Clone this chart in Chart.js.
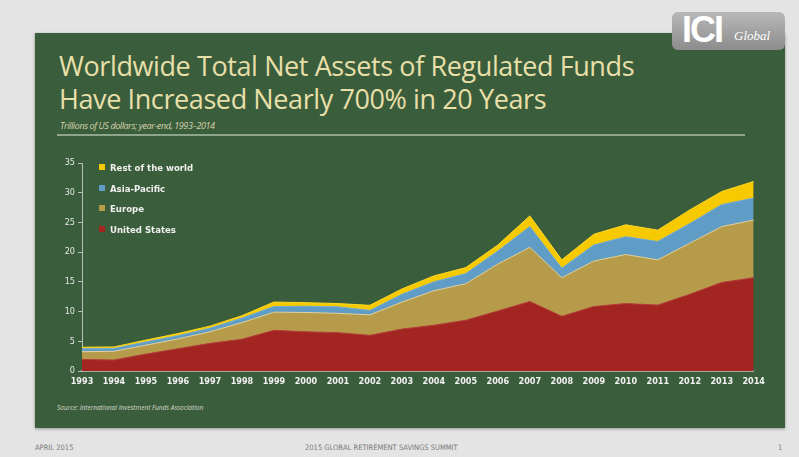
<!DOCTYPE html>
<html>
<head>
<meta charset="utf-8">
<script src="https://cdn.jsdelivr.net/npm/chart.js@4.4.1/dist/chart.umd.min.js"></script>
<style>
  html, body { margin: 0; padding: 0; }
  body { width: 799px; height: 457px; background: #e4e4e4; position: relative; overflow: hidden; font-family: Lato, "Open Sans", sans-serif; }
  #panel { position: absolute; left: 35px; top: 33px; width: 750px; height: 395px; background: #3a5e3b; box-shadow: 0 1px 3px rgba(0,0,0,0.35); }
  #logo { position: absolute; left: 672px; top: 12px; width: 113px; height: 38px; border-radius: 6px; background: linear-gradient(#b8b8b8, #8c8c8c); color: #fff; }
  #logo .ici { position: absolute; left: 10px; top: -3px; font: bold 36px "Liberation Sans Narrow", "Liberation Sans", sans-serif; letter-spacing: -2px; }
  #logo .glob { position: absolute; left: 62px; top: 16px; font: italic 13px "Liberation Serif", serif; }
  .title { position: absolute; left: 59px; color: #e9dfa9; font-family: "Open Sans", sans-serif; font-size: 27px; white-space: nowrap; letter-spacing: -0.4px; }
  #sub { position: absolute; left: 60px; top: 119px; color: #d9d2b0; font: italic 9px "Open Sans", sans-serif; letter-spacing: -0.4px; }
  #rule { position: absolute; left: 57px; top: 134px; width: 688px; height: 2px; background: #8fa58b; }
  #chartBox { position: absolute; left: 40px; top: 150px; width: 730px; height: 245px; }
  #legend { position: absolute; left: 99px; top: 162px; }
  #legend div { height: 20.7px; color: #f0f0f0; font: bold 9.5px "DejaVu Sans Condensed", sans-serif; white-space: nowrap; }
  #legend span { display: inline-block; width: 6px; height: 6px; margin-right: 5px; vertical-align: 1px; }
  #source { position: absolute; left: 57px; top: 403px; color: #d8d8d0; font: italic 6.5px "Open Sans", sans-serif; }
  .foot { position: absolute; top: 443px; color: #7a7a7a; font: 7.5px "DejaVu Sans Condensed", sans-serif; }
</style>
</head>
<body>
<div id="panel"></div>
<div id="logo"><span class="ici">ICI</span><span class="glob">Global</span></div>
<div class="title" style="top:47px">Worldwide Total Net Assets of Regulated Funds</div>
<div class="title" style="top:80px">Have Increased Nearly 700% in 20 Years</div>
<div id="sub">Trillions of US dollars; year-end, 1993–2014</div>
<div id="rule"></div>
<div id="chartBox"><canvas id="myChart" width="730" height="245"></canvas></div>
<div id="legend"></div>
<div id="source">Source: International Investment Funds Association</div>
<div class="foot" style="left:35px">APRIL 2015</div>
<div class="foot" style="left:305px">2015 GLOBAL RETIREMENT SAVINGS SUMMIT</div>
<div class="foot" style="left:778px">1</div>
<script>
const years = ["1993", "1994", "1995", "1996", "1997", "1998", "1999", "2000", "2001", "2002", "2003",
  "2004", "2005", "2006", "2007", "2008", "2009", "2010", "2011", "2012", "2013", "2014"];
const unitedStates = [1.95, 1.85, 2.85, 3.75, 4.65, 5.35, 6.85, 6.6, 6.45, 6.0, 7.05, 7.7, 8.55, 10.1, 11.7, 9.2, 10.85, 11.35, 11.1, 12.9, 14.9, 15.7];
const europe = [1.3, 1.45, 1.5, 1.65, 1.95, 2.8, 3.05, 3.25, 3.25, 3.45, 4.55, 5.8, 6.15, 7.9, 9.1, 6.5, 7.65, 8.25, 7.6, 8.6, 9.4, 9.7];
const asiaPacific = [0.5, 0.5, 0.55, 0.55, 0.6, 0.75, 0.95, 1.05, 1.1, 0.75, 1.3, 1.5, 1.7, 2.2, 3.5, 1.6, 2.7, 3.0, 3.1, 3.3, 3.7, 3.7];
const restOfWorld = [0.25, 0.25, 0.3, 0.35, 0.35, 0.4, 0.75, 0.6, 0.55, 0.85, 0.9, 1.0, 1.0, 1.0, 1.8, 1.4, 1.8, 2.0, 1.9, 2.3, 2.2, 2.8];
const yTicks = [0, 5, 10, 15, 20, 25, 30, 35];

const series = [
  { label: "United States", data: unitedStates, color: "#a32521", line: "#b8403a" },
  { label: "Europe", data: europe, color: "#b69b4b", line: "#e2d3a0" },
  { label: "Asia-Pacific", data: asiaPacific, color: "#5f9cc6", line: "#78b0d6" },
  { label: "Rest of the world", data: restOfWorld, color: "#f6c900", line: "#ffd820" }
];

// legend, top item first
const legend = document.getElementById("legend");
series.slice().reverse().forEach(s => {
  const row = document.createElement("div");
  row.innerHTML = '<span style="background:' + s.color + '"></span>' + s.label;
  legend.appendChild(row);
});

const ctx = document.getElementById("myChart").getContext("2d");
new Chart(ctx, {
  type: "line",
  data: {
    labels: years,
    datasets: series.map((s, i) => ({
      label: s.label,
      data: s.data,
      backgroundColor: s.color,
      borderColor: s.line,
      borderWidth: 1,
      pointRadius: 0,
      tension: 0,
      fill: i === 0 ? "origin" : "-1"
    }))
  },
  options: {
    responsive: false,
    animation: false,
    layout: { padding: { top: 13, right: 9 } },
    plugins: { legend: { display: false }, tooltip: { enabled: false } },
    scales: {
      x: {
        offset: false,
        grid: { display: false, drawTicks: false },
        border: { display: true, color: "#a9aba6", width: 2 },
        ticks: { color: "#f2f2f2", font: { family: "DejaVu Sans Condensed", weight: "bold", size: 9 }, padding: 5, maxRotation: 0, autoSkip: false },
        afterFit: axis => { axis.height = 24; }
      },
      y: {
        stacked: true,
        min: 0,
        max: 35,
        afterBuildTicks: axis => { axis.ticks = yTicks.map(v => ({ value: v })); },
        grid: { drawOnChartArea: false, drawTicks: true, tickLength: 4, color: "#b9bcb6" },
        border: { display: true, color: "#b9bcb6", width: 1 },
        ticks: { color: "#e6e6e6", font: { family: "DejaVu Sans Condensed", size: 9 }, padding: 3 },
        afterFit: axis => { axis.width = 42; }
      }
    }
  }
});
</script>
</body>
</html>
